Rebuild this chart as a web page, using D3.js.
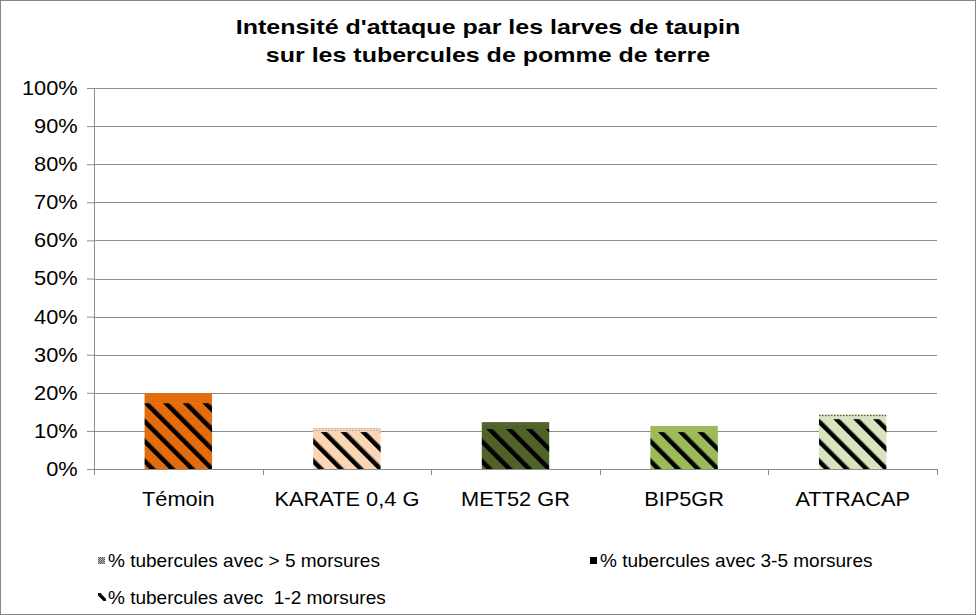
<!DOCTYPE html>
<html>
<head>
<meta charset="utf-8">
<script src="https://cdn.jsdelivr.net/npm/d3@7"></script>
<style>
  body { margin: 0; background: #fff; }
  svg text { font-family: Arial, "Liberation Sans", sans-serif; }
</style>
</head>
<body>
<svg width="976" height="615"></svg>
<script>
// data (percent of tubers)
var categories = ["Témoin", "KARATE 0,4 G", "MET52 GR", "BIP5GR", "ATTRACAP"];
var bite12 = [17.3, 9.7, 10.5, 9.7, 13.1];     // % tubercules avec 1-2 morsures
var bite35 = [2.6, 0.4, 1.3, 1.6, 0.7];        // % tubercules avec 3-5 morsures
var bite5plus = [0.0, 0.6, 0.5, 0.0, 0.6];     // % tubercules avec > 5 morsures
var barColors = ["#E46C0A", "#FCD5B5", "#4F6228", "#9BBB59", "#D7E4BD"];
var yTicks = [0, 10, 20, 30, 40, 50, 60, 70, 80, 90, 100];
var seriesNames = ["% tubercules avec > 5 morsures", "% tubercules avec 3-5 morsures", "% tubercules avec  1-2 morsures"];

var svg = d3.select("svg");
var defs = svg.append("defs");

// outer frame
svg.append("rect")
    .attr("x", 0.5).attr("y", 0.5)
    .attr("width", 975).attr("height", 614)
    .attr("fill", "#fff").attr("stroke", "#868686");

var margin = { top: 88, left: 94, right: 39, bottom: 146 },
    width = 976 - margin.left - margin.right,
    height = 615 - margin.top - margin.bottom;
var g = svg.append("g").attr("transform", "translate(" + margin.left + "," + margin.top + ")");

// patterns
barColors.forEach(function(c, i) {
    var p = defs.append("pattern")
        .attr("id", "stripe" + i)
        .attr("patternUnits", "userSpaceOnUse")
        .attr("width", 14).attr("height", 14)
        .attr("patternTransform", "rotate(-45)");
    p.append("rect").attr("width", 14).attr("height", 14).attr("fill", c);
    p.append("rect").attr("x", 0).attr("width", 4.5).attr("height", 14).attr("fill", "#000");

    var d = defs.append("pattern")
        .attr("id", "dots" + i)
        .attr("patternUnits", "userSpaceOnUse")
        .attr("width", 3).attr("height", 3);
    d.append("rect").attr("width", 3).attr("height", 3).attr("fill", c);
    d.append("rect").attr("width", 1.5).attr("height", 1.5).attr("fill", "#555");
});
var dl = defs.append("pattern").attr("id", "dotsLegend")
    .attr("patternUnits", "userSpaceOnUse").attr("width", 2).attr("height", 2);
dl.append("rect").attr("width", 2).attr("height", 2).attr("fill", "#bbb");
dl.append("rect").attr("width", 1).attr("height", 1).attr("fill", "#555");
dl.append("rect").attr("x", 1).attr("y", 1).attr("width", 1).attr("height", 1).attr("fill", "#555");

var x = d3.scaleBand().domain(categories).range([0, width]).padding(0);
var y = d3.scaleLinear().domain([0, 100]).range([height, 0]);

// gridlines
g.selectAll(".grid").data(yTicks.slice(1)).enter().append("line")
    .attr("x1", 0).attr("x2", width)
    .attr("y1", function(d) { return Math.round(y(d)) + 0.5; })
    .attr("y2", function(d) { return Math.round(y(d)) + 0.5; })
    .attr("stroke", "#8c8c8c").attr("stroke-width", 1);

// stacked bars
var barW = x.bandwidth() * 0.4;
var stacks = categories.map(function(c, i) {
    return [
        { y0: 0, y1: bite12[i], fill: "url(#stripe" + i + ")" },
        { y0: bite12[i], y1: bite12[i] + bite35[i], fill: barColors[i] },
        { y0: bite12[i] + bite35[i], y1: bite12[i] + bite35[i] + bite5plus[i], fill: "url(#dots" + i + ")" }
    ];
});
var bars = g.selectAll(".bar").data(stacks).enter().append("g")
    .attr("transform", function(d, i) { return "translate(" + (x(categories[i]) + (x.bandwidth() - barW) / 2) + ",0)"; });
bars.selectAll("rect").data(function(d) { return d; }).enter().append("rect")
    .attr("x", 0)
    .attr("width", barW)
    .attr("y", function(d) { return y(d.y1); })
    .attr("height", function(d) { return y(d.y0) - y(d.y1); })
    .attr("fill", function(d) { return d.fill; });

// axes (Excel text is a bit wider than Arial, so stretch it slightly)
var yAxis = g.append("g")
    .call(d3.axisLeft(y).tickValues(yTicks).tickFormat(function(d) { return d + "%"; }).tickSize(7).tickPadding(8));
yAxis.select(".domain").attr("stroke", "#8c8c8c");
yAxis.selectAll(".tick line").attr("stroke", "#8c8c8c");
yAxis.selectAll("text").attr("font-size", 20).attr("fill", "#000")
    .attr("transform", "scale(1.09,1)");

var xAxis = g.append("g").attr("transform", "translate(0," + height + ")")
    .call(d3.axisBottom(x).tickSize(0).tickPadding(23));
xAxis.select(".domain").attr("stroke", "#8c8c8c");
xAxis.selectAll("text").attr("font-size", 20).attr("fill", "#000")
    .attr("dy", "0.7em")
    .attr("transform", "scale(1.09,1)");
// category boundary tick marks
xAxis.selectAll(".bound").data(d3.range(categories.length + 1)).enter().append("line")
    .attr("x1", function(i) { return Math.round(i * x.step()) + 0.5; })
    .attr("x2", function(i) { return Math.round(i * x.step()) + 0.5; })
    .attr("y1", 0).attr("y2", 6)
    .attr("stroke", "#8c8c8c");

// title
var title = svg.append("g").attr("transform", "translate(488,34) scale(1.19,1)")
    .append("text")
    .attr("text-anchor", "middle")
    .attr("font-size", 21).attr("font-weight", "bold");
title.append("tspan").attr("x", 0).text("Intensité d'attaque par les larves de taupin");
title.append("tspan").attr("x", 0).attr("dy", 28).text("sur les tubercules de pomme de terre");

// legend
var legendPos = [[98, 567], [590, 567], [98, 604]];
var legendFill = ["url(#dotsLegend)", "#000", null];
var legend = svg.selectAll(".legend").data(seriesNames).enter().append("g")
    .attr("transform", function(d, i) { return "translate(" + legendPos[i][0] + "," + legendPos[i][1] + ")"; });
legend.each(function(d, i) {
    var lg = d3.select(this);
    if (legendFill[i]) {
        lg.append("rect").attr("x", 0).attr("y", -10).attr("width", 7).attr("height", 7).attr("fill", legendFill[i]);
    } else {
        lg.append("path").attr("d", "M0,-11 L2.5,-11 L8,-5 L8,-3 L5.5,-3 L0,-8.5 Z").attr("fill", "#000");
    }
    lg.append("text").attr("x", 10).attr("y", 0)
        .attr("font-size", 19).style("white-space", "pre")
        .text(d);
});
</script>
</body>
</html>
